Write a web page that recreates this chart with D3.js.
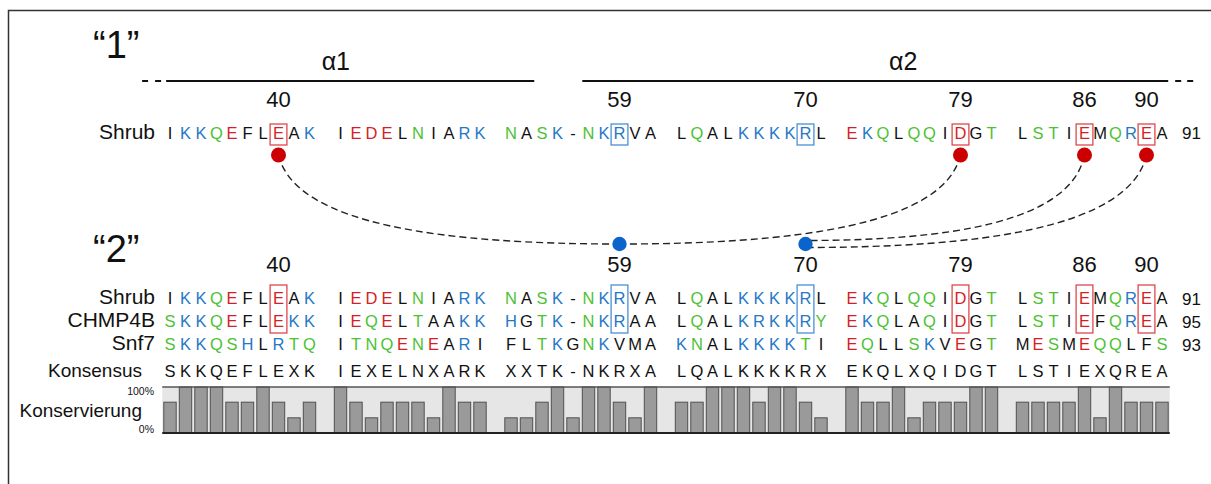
<!DOCTYPE html>
<html>
<head>
<meta charset="utf-8">
<script src="https://cdn.jsdelivr.net/npm/d3@7"></script>
<style>
  body { margin: 0; background: #fff; }
  svg { display: block; font-family: "Liberation Sans", Arial, Helvetica, sans-serif; }
</style>
</head>
<body>
<svg id="chart" width="1211" height="484"></svg>
<script>
// Alignment rows, written in blocks of ten columns
const shrubBlocks     = ["IKKQEFLEAK", "IEDELNIARK", "NASK-NKRVA", "LQALKKKKRL", "EKQLQQIDGT", "LSTIEMQREA"];
const chmp4bBlocks    = ["SKKQEFLEKK", "IEQELTAAKK", "HGTK-NKRAA", "LQALKRKKRY", "EKQLAQIDGT", "LSTIEFQREA"];
const snf7Blocks      = ["SKKQSHLRTQ", "ITNQENEARI", "FLTKGNKVMA", "KNALKKKKTI", "EQLLSKVEGT", "MESMEQQLFS"];
const consensusBlocks = ["SKKQEFLEXK", "IEXELNXARK", "XXTK-NKRXA", "LQALKKKKRX", "EKQLXQIDGT", "LSTIEXQREA"];
const seqNames = ["Shrub", "CHMP4B", "Snf7"];
const seqEndNumbers = [91, 95, 93];
const shrubFirstResidue = 33;

// Conservation per alignment column (%)
const conservation = [
  67, 100, 100, 100, 67, 67, 100, 67, 33, 67,
  100, 67, 33, 67, 67, 67, 33, 100, 67, 67,
  33, 33, 67, 100, 33, 100, 100, 67, 33, 100,
  67, 67, 100, 100, 100, 67, 100, 100, 67, 33,
  100, 67, 67, 100, 33, 67, 67, 67, 100, 100,
  67, 67, 67, 67, 100, 33, 100, 67, 67, 67
];

// Shrub residues that are numbered / boxed, and the contacts between them
const numberedResidues = [40, 59, 70, 79, 86, 90];
const acidicSites = [40, 79, 86, 90];
const basicSites = [59, 70];
const contacts = [[40, 59], [79, 59], [86, 70], [90, 70]];

// Helices in alignment-column units (block gaps count as one column)
const helices = [
  { name: "α1", start: -0.25, end: 23.5, labelAt: 10.7 },
  { name: "α2", start: 26.6, end: 64.4, labelAt: 47.3 }
];

const BLUE = "#2677c6", RED = "#d41f26", GREEN = "#4cc233", BLACK = "#111";
const residueGroup = { K: "basic", R: "basic", H: "basic", D: "acidic", E: "acidic",
                       Q: "polar", N: "polar", S: "polar", T: "polar", Y: "polar" };
const groupColor = d3.scaleOrdinal()
  .domain(["basic", "acidic", "polar", "other"])
  .range([BLUE, RED, GREEN, BLACK]);

// Flatten blocks into slots; each block is followed by one empty slot
function toColumns(blocks) {
  const out = [];
  blocks.forEach((b, bi) => b.split("").forEach((ch, i) => out.push({ ch, slot: bi * 11 + i, col: bi * 10 + i })));
  return out;
}
const shrubCols = toColumns(shrubBlocks);
const alignment = [shrubBlocks, chmp4bBlocks, snf7Blocks].map(toColumns);
const consensusCols = toColumns(consensusBlocks);

// Residue number -> slot (Shrub numbering, gaps skipped)
const residueSlot = new Map();
{
  let r = shrubFirstResidue;
  shrubCols.forEach(c => { if (c.ch !== "-") { residueSlot.set(r, c.slot); r++; } });
}

const x = d3.scaleLinear().domain([0, 64]).range([170, 1162]);
const slotOfCol = col => Math.floor(col / 10) * 11 + (col % 10);

const svg = d3.select("#chart");

// frame
svg.append("rect").attr("x", 8.5).attr("y", 10.5).attr("width", 1400).attr("height", 700)
  .attr("fill", "none").attr("stroke", "#333").attr("stroke-width", 1.5);

// section titles
svg.append("text").attr("x", 93).attr("y", 58).attr("font-size", 38).attr("fill", BLACK).text("“1”");
svg.append("text").attr("x", 93).attr("y", 262).attr("font-size", 38).attr("fill", BLACK).text("“2”");

// helices
const helixY = 81;
const gH = svg.append("g");
gH.selectAll("line.helix").data(helices).join("line").attr("class", "helix")
  .attr("x1", d => x(d.start)).attr("x2", d => x(d.end))
  .attr("y1", helixY).attr("y2", helixY).attr("stroke", "#111").attr("stroke-width", 2);
gH.selectAll("text").data(helices).join("text")
  .attr("x", d => x(d.labelAt)).attr("y", 70).attr("text-anchor", "middle")
  .attr("font-size", 25).attr("fill", BLACK).text(d => d.name);
// continuation dashes at both ends
gH.append("line").attr("x1", x(-1.8)).attr("x2", x(-0.45)).attr("y1", helixY).attr("y2", helixY)
  .attr("stroke", "#111").attr("stroke-width", 2).attr("stroke-dasharray", "6,7");
gH.append("line").attr("x1", x(64.85)).attr("x2", x(66.1)).attr("y1", helixY).attr("y2", helixY)
  .attr("stroke", "#111").attr("stroke-width", 2).attr("stroke-dasharray", "6,6");

const LETTER_SIZE = 16.5;

function residueNumbers(yBase) {
  svg.append("g").selectAll("text").data(numberedResidues).join("text")
    .attr("x", d => x(residueSlot.get(d))).attr("y", yBase).attr("text-anchor", "middle")
    .attr("font-size", 22).attr("fill", BLACK).text(d => d);
}

function drawRow(cols, yBase, colored) {
  svg.append("g").selectAll("text").data(cols).join("text")
    .attr("x", d => x(d.slot)).attr("y", yBase).attr("text-anchor", "middle")
    .attr("font-size", LETTER_SIZE)
    .attr("fill", d => colored ? groupColor(residueGroup[d.ch] || "other") : BLACK)
    .text(d => d.ch);
}

function siteBoxes(y0, y1) {
  const sites = acidicSites.map(r => ({ r, c: "#e0474c" })).concat(basicSites.map(r => ({ r, c: "#4a8fd8" })));
  svg.append("g").selectAll("rect").data(sites).join("rect")
    .attr("x", d => x(residueSlot.get(d.r)) - 8.4).attr("y", y0)
    .attr("width", 16.8).attr("height", y1 - y0)
    .attr("fill", "none").attr("stroke", d => d.c).attr("stroke-width", 1.3);
}

// ---- section 1: Shrub only
residueNumbers(107);
svg.append("text").attr("x", 155).attr("y", 139).attr("text-anchor", "end").attr("font-size", 21)
  .attr("fill", BLACK).text(seqNames[0]);
drawRow(shrubCols, 139, true);
svg.append("text").attr("x", 1182).attr("y", 139).attr("font-size", 17).attr("fill", BLACK).text(seqEndNumbers[0]);
siteBoxes(124, 145);

// ---- contacts
const redY = 155, blueY = 244;
const arrivals = d3.group(contacts, ([a, b]) => b + (residueSlot.get(a) > residueSlot.get(b) ? "R" : "L"));
const curveG = svg.append("g");
contacts.forEach(([a, b]) => {
  const xr = x(residueSlot.get(a)), xb = x(residueSlot.get(b));
  const key = b + (xr > xb ? "R" : "L");
  const grp = arrivals.get(key);
  const k = grp.findIndex(p => p[0] === a);
  const yb = blueY + (grp.length > 1 ? (k - (grp.length - 1) / 2) * 7 : 0);
  const p = d3.path();
  p.moveTo(xr, redY);
  p.bezierCurveTo(xr + 0.05 * (xb - xr), redY + 0.8 * (yb - redY), xb + 0.5 * (xr - xb), yb, xb, yb);
  curveG.append("path").attr("d", p.toString()).attr("fill", "none")
    .attr("stroke", "#222").attr("stroke-width", 1.4).attr("stroke-dasharray", "7,4");
});
svg.append("g").selectAll("circle").data(acidicSites).join("circle")
  .attr("cx", d => x(residueSlot.get(d))).attr("cy", redY).attr("r", 7.5).attr("fill", "#cc0000");
svg.append("g").selectAll("circle").data(basicSites).join("circle")
  .attr("cx", d => x(residueSlot.get(d))).attr("cy", blueY).attr("r", 7.2).attr("fill", "#0a64cc");

// ---- section 2: alignment
residueNumbers(272);
const rowY = [304, 327, 350];
alignment.forEach((cols, i) => {
  svg.append("text").attr("x", 155).attr("y", rowY[i]).attr("text-anchor", "end").attr("font-size", 21)
    .attr("fill", BLACK).text(seqNames[i]);
  drawRow(cols, rowY[i], true);
  svg.append("text").attr("x", 1182).attr("y", rowY[i] + 1).attr("font-size", 17).attr("fill", BLACK).text(seqEndNumbers[i]);
});
siteBoxes(285, 333);

svg.append("text").attr("x", 142).attr("y", 377).attr("text-anchor", "end").attr("font-size", 19)
  .attr("fill", BLACK).text("Konsensus");
drawRow(consensusCols, 377, false);

// ---- conservation histogram
const yC = d3.scaleLinear().domain([0, 100]).range([433, 387]);
const cg = svg.append("g");
cg.append("rect").attr("x", x(-0.5)).attr("y", yC(100)).attr("width", x(64.5) - x(-0.5))
  .attr("height", yC(0) - yC(100)).attr("fill", "#e6e6e6");
cg.selectAll("rect.bar").data(conservation).join("rect").attr("class", "bar")
  .attr("x", (d, i) => x(slotOfCol(i)) - 6.2).attr("width", 12.4)
  .attr("y", d => yC(d)).attr("height", d => yC(0) - yC(d))
  .attr("fill", "#9a9a9a").attr("stroke", "#505050").attr("stroke-width", 1);
cg.append("line").attr("x1", x(-0.5)).attr("x2", x(64.5)).attr("y1", yC(100)).attr("y2", yC(100))
  .attr("stroke", "#555").attr("stroke-width", 1.5);
cg.append("line").attr("x1", x(-0.5)).attr("x2", x(64.5)).attr("y1", yC(0)).attr("y2", yC(0))
  .attr("stroke", "#222").attr("stroke-width", 2);
cg.append("text").attr("x", 154).attr("y", yC(100) + 8).attr("text-anchor", "end").attr("font-size", 10.5)
  .attr("fill", BLACK).text("100%");
cg.append("text").attr("x", 154).attr("y", yC(0)).attr("text-anchor", "end").attr("font-size", 10.5)
  .attr("fill", BLACK).text("0%");
svg.append("text").attr("x", 142).attr("y", 417).attr("text-anchor", "end").attr("font-size", 19)
  .attr("fill", BLACK).text("Konservierung");
</script>
</body>
</html>
